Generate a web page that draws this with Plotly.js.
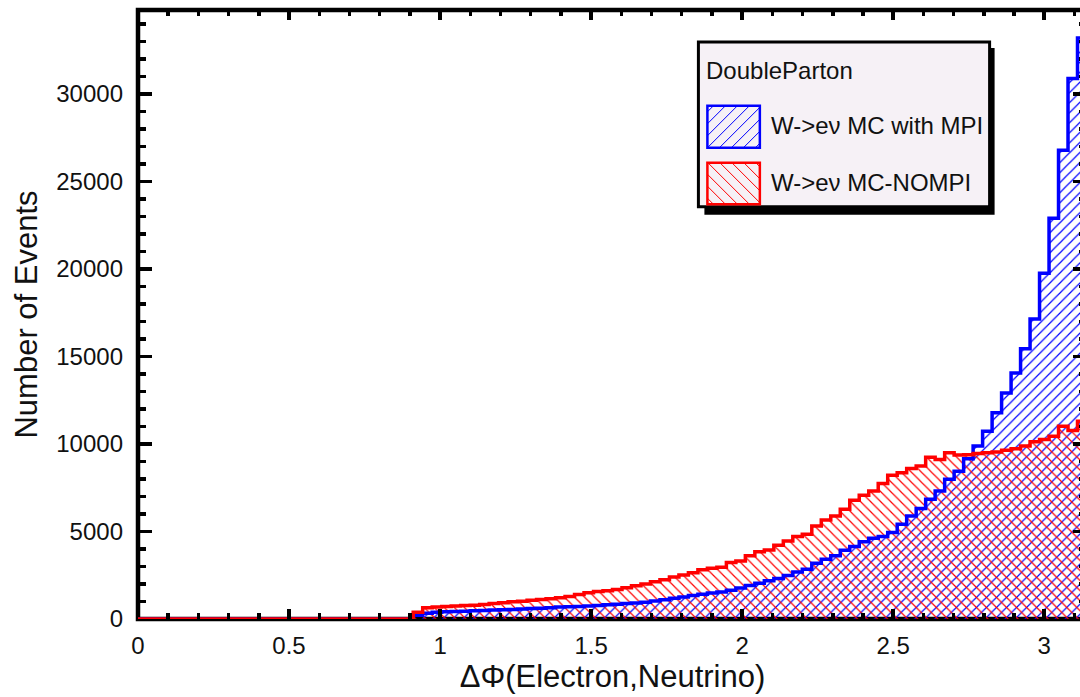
<!DOCTYPE html>
<html><head><meta charset="utf-8">
<script src="https://cdn.plot.ly/plotly-3.0.1.min.js"></script>
<style>html,body{margin:0;padding:0;overflow:hidden;background:#fff;width:1080px;height:697px}#chart{width:1100px;height:697px}</style>
</head><body><div id="chart"></div><script>
// Histogram definition: 100 bins from 0 to pi
const nBins = 100;
const xMin = 0;
const xMax = Math.PI;

// W->e nu MC with MPI (bins 0..99)
const withMPI = [
  0,0,0,0,0,0,0,0,0,0, 0,0,0,0,0,0,0,0,0,0, 0,0,0,0,0,0,0,0,0,
  220,330,380,420,430,450,470,490,510,530,
  550,570,600,620,650,680,700,720,750,770,
  810,840,880,920,960,1030,1100,1190,1260,1340,
  1420,1490,1550,1650,1770,1920,2050,2180,2320,2480,
  2690,2850,3180,3420,3620,3930,4150,4420,4620,4720,
  4950,5420,5890,6310,6840,7310,7980,8450,9160,9880,
  10730,11780,12920,14060,15450,17150,19760,22900,26790,30880,
  33200
];

// W->e nu MC-NOMPI (bins 0..99)
const noMPI = [
  0,0,0,0,0,0,0,0,0,0, 0,0,0,0,0,0,0,0,0,0, 0,0,0,0,0,0,0,0,0,
  390,640,680,720,750,770,790,830,880,930,
  980,1020,1070,1110,1160,1220,1290,1400,1500,1570,
  1620,1680,1780,1900,2000,2130,2250,2400,2520,2650,
  2810,2900,2960,3230,3320,3610,3840,3950,4220,4460,
  4710,4840,5320,5660,5890,6270,6780,7070,7310,7750,
  8210,8360,8600,8740,9250,9120,9500,9370,9390,9460,
  9500,9540,9640,9730,9880,10130,10260,10450,11020,10770,
  11300
];

const seriesNames = ['W->e\u03BD MC with MPI', 'W->e\u03BD MC-NOMPI'];
const legendTitle = 'DoubleParton';
const xTitle = '\u0394\u03A6(Electron,Neutrino)';
const yTitle = 'Number of Events';
const xTickVals = [0, 0.5, 1, 1.5, 2, 2.5, 3];
const xTickText = ['0', '0.5', '1', '1.5', '2', '2.5', '3'];
const yTickVals = [0, 5000, 10000, 15000, 20000, 25000, 30000];
const yTickText = ['0', '5000', '10000', '15000', '20000', '25000', '30000'];
const yMax = 34800;

// ---- derived geometry ----
const binW = (xMax - xMin) / nBins;
const centers = [], edges = [];
for (let i = 0; i < nBins; i++) centers.push(xMin + (i + 0.5) * binW);
for (let i = 0; i <= nBins; i++) edges.push(xMin + i * binW);
const stepY = arr => arr.concat([arr[arr.length - 1]]);

const FONT = '"Liberation Sans", Arial, Helvetica, sans-serif';
const W = 1100, H = 697;
const M = {l: 137.5, r: 12.5, t: 9.5, b: 77.5};
const PW = W - M.l - M.r, PH = H - M.t - M.b;
const px = x => (x - M.l) / PW;
const py = y => (H - M.b - y) / PH;

function hatch(x0, y0, x1, y1, dir, step) {
  let d = '';
  if (dir > 0) {
    for (let c = x0 + y0 + step / 2; c <= x1 + y1; c += step) {
      const xa = Math.max(x0, c - y1), xb = Math.min(x1, c - y0);
      if (xb > xa) d += 'M' + px(xa) + ',' + py(c - xa) + 'L' + px(xb) + ',' + py(c - xb);
    }
  } else {
    for (let c = x0 - y1 + step / 2; c <= x1 - y0; c += step) {
      const xa = Math.max(x0, c + y0), xb = Math.min(x1, c + y1);
      if (xb > xa) d += 'M' + px(xa) + ',' + py(xa - c) + 'L' + px(xb) + ',' + py(xb - c);
    }
  }
  return d;
}

const BLUE = '#0000ff', RED = '#ff0000';
const pat = (shape, col) => ({shape: shape, fillmode: 'replace', fgcolor: col, bgcolor: 'rgba(0,0,0,0)', size: 7.1, solidity: 0.17});

const traces = [
  {type: 'bar', x: centers, y: withMPI, width: binW, name: seriesNames[0], hoverinfo: 'skip',
   marker: {color: BLUE, line: {width: 0}, pattern: pat('/', BLUE)}},
  {type: 'bar', x: centers, y: noMPI, width: binW, name: seriesNames[1], hoverinfo: 'skip',
   marker: {color: RED, line: {width: 0}, pattern: pat('\\', RED)}},
  {type: 'scatter', mode: 'lines', x: edges, y: stepY(withMPI), line: {shape: 'hv', color: BLUE, width: 3.5}, hoverinfo: 'skip', showlegend: false},
  {type: 'scatter', mode: 'lines', x: edges, y: stepY(noMPI), line: {shape: 'hv', color: RED, width: 3.5}, hoverinfo: 'skip', showlegend: false}
];

// legend (drawn manually, ROOT style)
const LB = {x0: 698.5, y0: 41.5, x1: 990, y1: 206.5};
const SW1 = {x0: 707.5, y0: 105.5, x1: 760, y1: 147.5};
const SW2 = {x0: 707.5, y0: 162.5, x1: 760, y1: 204};
const shapes = [
  {type: 'rect', xref: 'paper', yref: 'paper', x0: 0, x1: 1, y0: 0, y1: 1, line: {color: '#000', width: 4.5}, layer: 'below'},
  {type: 'rect', xref: 'paper', yref: 'paper', x0: px(LB.x0 + 6), x1: px(LB.x1 + 5), y0: py(LB.y1 + 8), y1: py(LB.y0 + 6), fillcolor: '#000', line: {width: 0}, layer: 'above'},
  {type: 'rect', xref: 'paper', yref: 'paper', x0: px(LB.x0), x1: px(LB.x1), y0: py(LB.y1), y1: py(LB.y0), fillcolor: '#f6f1f6', line: {color: '#000', width: 3}, layer: 'above'},
  {type: 'path', xref: 'paper', yref: 'paper', path: hatch(SW1.x0, SW1.y0, SW1.x1, SW1.y1, 1, 12), line: {color: BLUE, width: 1}, layer: 'above'},
  {type: 'rect', xref: 'paper', yref: 'paper', x0: px(SW1.x0), x1: px(SW1.x1), y0: py(SW1.y1), y1: py(SW1.y0), line: {color: BLUE, width: 2.5}, layer: 'above'},
  {type: 'path', xref: 'paper', yref: 'paper', path: hatch(SW2.x0, SW2.y0, SW2.x1, SW2.y1, -1, 12), line: {color: RED, width: 1}, layer: 'above'},
  {type: 'rect', xref: 'paper', yref: 'paper', x0: px(SW2.x0), x1: px(SW2.x1), y0: py(SW2.y1), y1: py(SW2.y0), line: {color: RED, width: 2.5}, layer: 'above'}
];
const annFont = {family: FONT, size: 24, color: '#111'};
const annotations = [
  {xref: 'paper', yref: 'paper', x: px(704), y: py(70), xanchor: 'left', yanchor: 'middle', text: legendTitle, showarrow: false, font: annFont},
  {xref: 'paper', yref: 'paper', x: px(769), y: py(125), xanchor: 'left', yanchor: 'middle', text: seriesNames[0], showarrow: false, font: annFont},
  {xref: 'paper', yref: 'paper', x: px(769), y: py(182), xanchor: 'left', yanchor: 'middle', text: seriesNames[1], showarrow: false, font: annFont}
];

const layout = {
  width: W, height: H,
  margin: {l: M.l, r: M.r, t: M.t, b: M.b, pad: 0},
  paper_bgcolor: '#fff', plot_bgcolor: '#fff',
  showlegend: false, barmode: 'overlay', bargap: 0,
  font: {family: FONT, color: '#111'},
  xaxis: {
    range: [xMin, xMax], showline: false, mirror: 'allticks', zeroline: false, showgrid: false,
    tickmode: 'array', tickvals: xTickVals, ticktext: xTickText,
    ticks: 'inside', ticklen: 10, tickwidth: 3.5, tickcolor: '#000',
    minor: {tickmode: 'linear', tick0: 0, dtick: 0.1, ticks: 'inside', ticklen: 6, tickwidth: 3.5, tickcolor: '#000', showgrid: false},
    tickfont: {family: FONT, size: 24, color: '#111'}, ticklabelstandoff: 10,
    title: {text: xTitle, font: {family: FONT, size: 31, color: '#111'}, standoff: 7},
    automargin: false, fixedrange: true
  },
  yaxis: {
    range: [0, yMax], showline: false, mirror: 'allticks', zeroline: false, showgrid: false,
    tickmode: 'array', tickvals: yTickVals, ticktext: yTickText,
    ticks: 'inside', ticklen: 14, tickwidth: 3.5, tickcolor: '#000',
    minor: {tickmode: 'linear', tick0: 0, dtick: 1000, ticks: 'inside', ticklen: 8, tickwidth: 3.5, tickcolor: '#000', showgrid: false},
    tickfont: {family: FONT, size: 24, color: '#111'}, ticklabelstandoff: 14,
    title: {text: yTitle, font: {family: FONT, size: 31, color: '#111'}, standoff: 9},
    automargin: false, fixedrange: true
  },
  shapes: shapes,
  annotations: annotations
};

Plotly.newPlot('chart', traces, layout, {displayModeBar: false, staticPlot: true});
</script></body></html>
